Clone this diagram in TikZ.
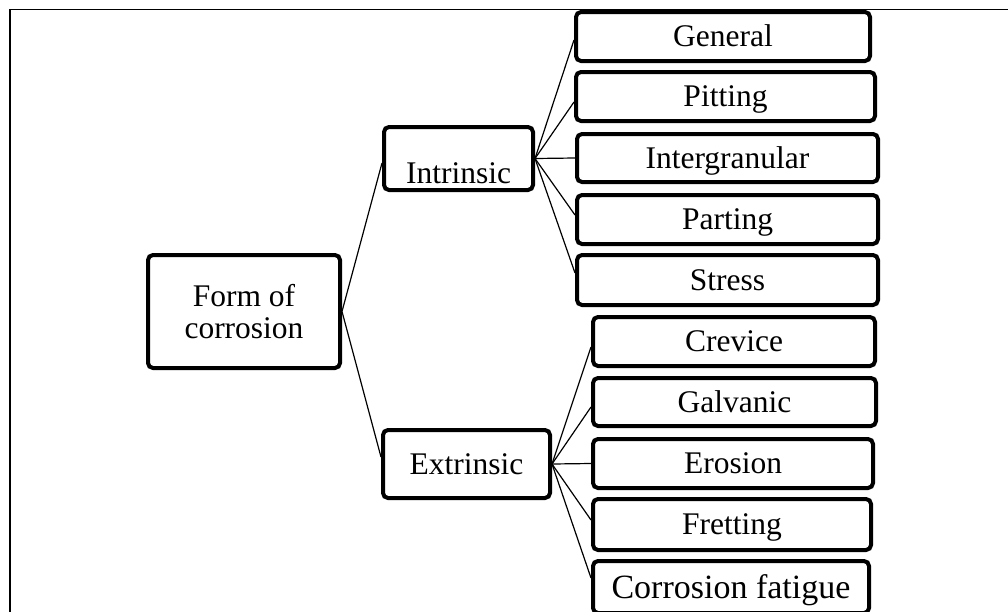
\documentclass[tikz,border=0pt]{standalone}
\usepackage{fontspec}
\setmainfont{Liberation Serif}
\begin{document}
\begin{tikzpicture}[x=1pt,y=-1pt,
  box/.style={draw=black,line width=4pt,rounded corners=5pt,inner sep=0pt,
    font=\fontsize{31.5}{32}\selectfont,align=center},
  leaf/.style={box,text height=20.8pt,text depth=0pt},
  conn/.style={draw=black,line width=1.2pt},
  frame/.style={draw=black,line width=1.4pt}]
\useasboundingbox (0,0) rectangle (1008,611);
\coordinate (fa) at (10,620);
\coordinate (fb) at (10,9.5);
\coordinate (fc) at (1020,9.5);
\draw[frame] (fa) -- (fb) -- (fc);

\node[box,minimum width=192pt,minimum height=113pt] (form) at (244,311.5) {Form of\\corrosion};
\node[leaf,minimum width=149pt,minimum height=63pt] (intr) at (458.5,158.5) {\raisebox{-14.5pt}{Intrinsic}};
\node[leaf,minimum width=167pt,minimum height=68pt] (extr) at (466.5,464) {Extrinsic};

\node[leaf,minimum width=294pt,minimum height=49pt] (gen) at (723,36.5) {General};
\node[leaf,minimum width=299pt,minimum height=49pt] (pit) at (725.5,96.5) {Pitting};
\node[leaf,minimum width=301pt,minimum height=48pt] (igr) at (727.5,158) {Intergranular};
\node[leaf,minimum width=301pt,minimum height=49pt] (par) at (727.5,219.5) {Parting};
\node[leaf,minimum width=301pt,minimum height=50pt] (str) at (727.5,280) {Stress};

\node[leaf,minimum width=282pt,minimum height=49pt] (cre) at (734,341.5) {Crevice};
\node[leaf,minimum width=283pt,minimum height=48pt] (gal) at (734.5,402) {Galvanic};
\node[leaf,minimum width=280pt,minimum height=49pt] (ero) at (733,463.5) {Erosion};
\node[leaf,minimum width=278pt,minimum height=51pt] (fre) at (732,524.5) {Fretting};
\node[leaf,minimum width=276pt,minimum height=52pt,font=\fontsize{34}{36}\selectfont,text height=22.5pt] (cfa) at (731,587) {Corrosion fatigue};

\draw[conn] (form.east) -- ([yshift=-4.5pt]intr.west);
\draw[conn] (form.east) -- ([yshift=7pt]extr.west);

\draw[conn] (intr.east) -- ([yshift=-3.5pt]gen.west);
\draw[conn] (intr.east) -- ([yshift=-5.5pt]pit.west);
\draw[conn] (intr.east) -- (igr.west);
\draw[conn] (intr.east) -- ([yshift=4.5pt]par.west);
\draw[conn] (intr.east) -- ([yshift=7pt]str.west);

\draw[conn] (extr.east) -- ([yshift=-5.5pt]cre.west);
\draw[conn] (extr.east) -- ([yshift=-5pt]gal.west);
\draw[conn] (extr.east) -- (ero.west);
\draw[conn] (extr.east) -- ([yshift=4.5pt]fre.west);
\draw[conn] (extr.east) -- ([yshift=9pt]cfa.west);
\end{tikzpicture}
\end{document}
